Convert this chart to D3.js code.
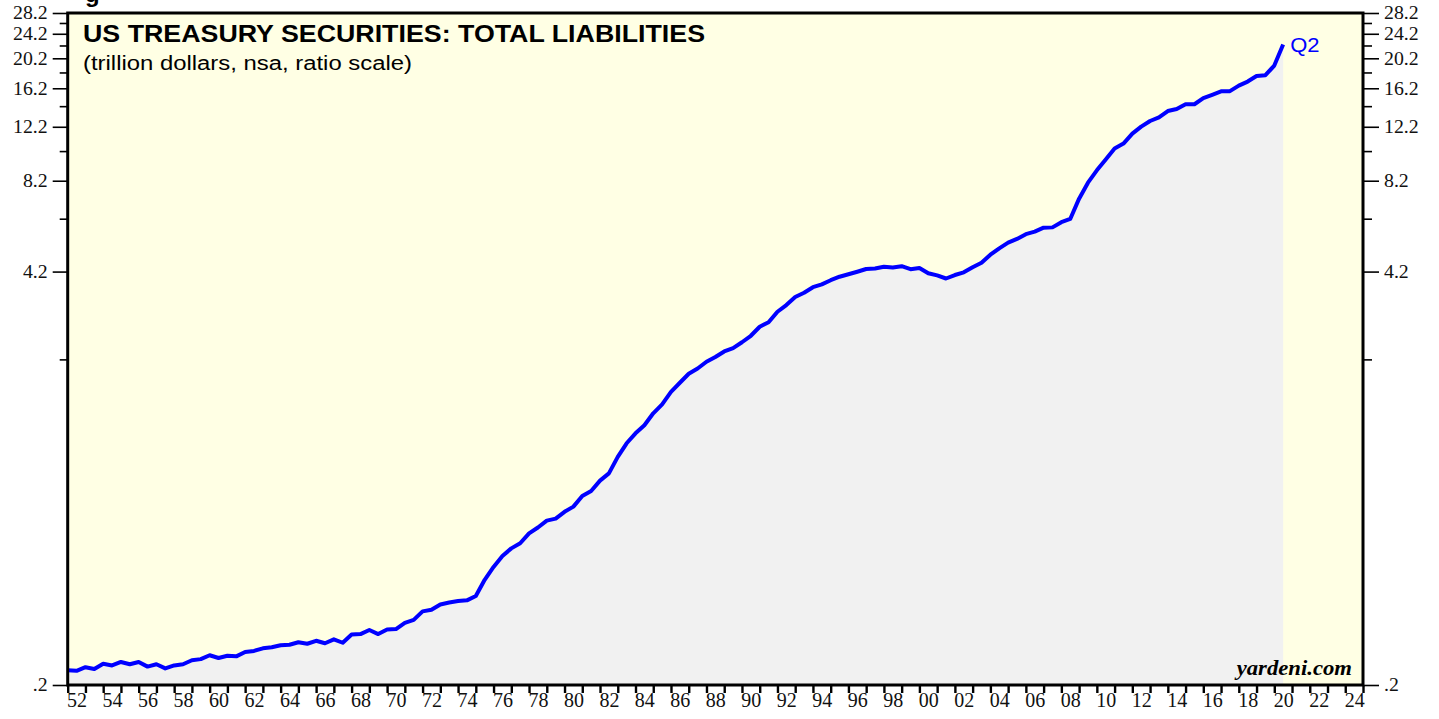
<!DOCTYPE html>
<html>
<head>
<meta charset="utf-8">
<script src="https://cdn.jsdelivr.net/npm/d3@7"></script>
<style>
  html, body { margin: 0; padding: 0; background: #fff; }
  svg { display: block; }
</style>
</head>
<body>
<svg id="chart" width="1439" height="719"></svg>
<script>
// half-year observations, 1952.0 .. 2020.5 (last point = Q2 2020)
const startYear = 1952;
const liabilities = [
  0.223, 0.222, 0.228, 0.225, 0.234, 0.231, 0.237, 0.233, 0.237, 0.229,
  0.233, 0.226, 0.231, 0.233, 0.240, 0.242, 0.249, 0.244, 0.248, 0.247,
  0.255, 0.257, 0.262, 0.264, 0.268, 0.269, 0.274, 0.271, 0.277, 0.272,
  0.280, 0.273, 0.290, 0.291, 0.300, 0.291, 0.301, 0.302, 0.316, 0.323,
  0.344, 0.348, 0.362, 0.367, 0.371, 0.373, 0.385, 0.434, 0.477, 0.517,
  0.547, 0.568, 0.611, 0.638, 0.671, 0.681, 0.716, 0.744, 0.805, 0.835,
  0.901, 0.950, 1.073, 1.186, 1.276, 1.354, 1.479, 1.580, 1.733, 1.852,
  1.979, 2.057, 2.162, 2.238, 2.332, 2.391, 2.496, 2.618, 2.798, 2.892,
  3.125, 3.283, 3.482, 3.594, 3.743, 3.824, 3.941, 4.044, 4.119, 4.196,
  4.280, 4.296, 4.353, 4.331, 4.369, 4.274, 4.315, 4.150, 4.083, 3.991,
  4.095, 4.177, 4.337, 4.484, 4.756, 4.982, 5.196, 5.343, 5.531, 5.635,
  5.803, 5.816, 6.043, 6.187, 7.185, 8.084, 8.851, 9.591, 10.40, 10.78,
  11.60, 12.21, 12.73, 13.08, 13.70, 13.91, 14.41, 14.40, 15.07, 15.44,
  15.84, 15.86, 16.52, 17.02, 17.73, 17.84, 19.15, 22.36
];
const yMajorTicks = [0.2, 4.2, 8.2, 12.2, 16.2, 20.2, 24.2, 28.2];
const yMinorTicks = [2.2, 6.2, 10.2, 14.2, 18.2, 22.2, 26.2];
const xDomain = [1952, 2025];
const lastLabel = 'Q2';

const data = liabilities.map((v, i) => ({ t: startYear + i / 2, v }));

const svg = d3.select('#chart');
const plot = { left: 67.7, right: 1363, top: 13, bottom: 685 };

const x = d3.scaleLinear().domain(xDomain).range([plot.left, plot.right]);
const y = d3.scaleLog().domain([0.2, 28.2]).range([plot.bottom, plot.top]);

// the source image is a little stretched sideways, so widen text to match
const stretch = (sel, k) => sel.each(function () {
  const w = this.getComputedTextLength();
  d3.select(this).attr('textLength', w * k).attr('lengthAdjust', 'spacingAndGlyphs');
});

// background
svg.append('rect')
  .attr('x', plot.left).attr('y', plot.top)
  .attr('width', plot.right - plot.left).attr('height', plot.bottom - plot.top)
  .attr('fill', '#ffffe4');

// grey area under the line
const area = d3.area()
  .x(d => x(d.t))
  .y0(plot.bottom)
  .y1(d => y(d.v));
svg.append('path')
  .datum(data)
  .attr('d', area)
  .attr('fill', '#f1f1f1');

const line = d3.line()
  .x(d => x(d.t))
  .y(d => y(d.v));
svg.append('path')
  .datum(data)
  .attr('d', line)
  .attr('fill', 'none')
  .attr('stroke', '#0000ff')
  .attr('stroke-width', 4)
  .attr('stroke-linejoin', 'round');

// frame
svg.append('rect')
  .attr('x', plot.left).attr('y', plot.top)
  .attr('width', plot.right - plot.left).attr('height', plot.bottom - plot.top)
  .attr('fill', 'none')
  .attr('stroke', '#000')
  .attr('stroke-width', 3);

const fmtY = d => d < 1 ? '.2' : d3.format('.1f')(d);

const styleAxis = (g, size) => {
  g.select('.domain').remove();
  g.selectAll('.tick line').attr('stroke', '#000').attr('stroke-width', 1.6);
  g.selectAll('.tick text')
    .attr('fill', '#111')
    .style('font-family', '"Liberation Serif", "Times New Roman", serif')
    .style('font-size', size + 'px');
};

// left axis
svg.append('g')
  .attr('transform', `translate(${plot.left},0)`)
  .call(d3.axisLeft(y).tickValues(yMinorTicks).tickSize(8).tickFormat(''))
  .call(g => styleAxis(g, 18));
svg.append('g')
  .attr('transform', `translate(${plot.left},0)`)
  .call(d3.axisLeft(y).tickValues(yMajorTicks).tickSize(15).tickPadding(5).tickFormat(fmtY))
  .call(g => styleAxis(g, 18))
  .call(g => stretch(g.selectAll('.tick text'), 1.1));

// right axis
svg.append('g')
  .attr('transform', `translate(${plot.right},0)`)
  .call(d3.axisRight(y).tickValues(yMinorTicks).tickSize(9).tickFormat(''))
  .call(g => styleAxis(g, 18));
svg.append('g')
  .attr('transform', `translate(${plot.right},0)`)
  .call(d3.axisRight(y).tickValues(yMajorTicks).tickSize(16).tickPadding(5).tickFormat(fmtY))
  .call(g => styleAxis(g, 18))
  .call(g => stretch(g.selectAll('.tick text'), 1.1));

// bottom axis: a tick every year, labels centred in even years
svg.append('g')
  .attr('transform', `translate(0,${plot.bottom})`)
  .call(d3.axisBottom(x).tickValues(d3.range(xDomain[0], xDomain[1] + 1)).tickSize(8).tickFormat(''))
  .call(g => styleAxis(g, 20))
  .call(g => g.selectAll('.tick line').attr('stroke-width', 2.4));
svg.append('g')
  .attr('transform', `translate(0,${plot.bottom})`)
  .call(d3.axisBottom(x)
    .tickValues(d3.range(xDomain[0], xDomain[1], 2).map(v => v + 0.5))
    .tickSize(0).tickPadding(8)
    .tickFormat(d => String(Math.floor(d) % 100).padStart(2, '0')))
  .call(g => styleAxis(g, 20));

// titles
svg.append('text')
  .attr('x', 83).attr('y', 42)
  .style('font-family', '"Liberation Sans", Arial, sans-serif')
  .style('font-weight', 'bold')
  .style('font-size', '23px')
  .attr('textLength', 622).attr('lengthAdjust', 'spacingAndGlyphs')
  .text('US TREASURY SECURITIES: TOTAL LIABILITIES');
svg.append('text')
  .attr('x', 83).attr('y', 70)
  .style('font-family', '"Liberation Sans", Arial, sans-serif')
  .style('font-size', '20px')
  .attr('textLength', 329).attr('lengthAdjust', 'spacingAndGlyphs')
  .text('(trillion dollars, nsa, ratio scale)');

// cut-off heading fragment at the very top
svg.append('text')
  .attr('x', 85).attr('y', 2)
  .style('font-family', '"Liberation Sans", Arial, sans-serif')
  .style('font-weight', 'bold')
  .style('font-size', '24px')
  .text('g');

// end label
const last = data[data.length - 1];
svg.append('text')
  .attr('x', x(last.t) + 7).attr('y', y(last.v) + 7)
  .attr('fill', '#0000ff')
  .style('font-family', '"Liberation Sans", Arial, sans-serif')
  .style('font-size', '20px')
  .text(lastLabel)
  .call(s => stretch(s, 1.1));

svg.append('text')
  .attr('x', 1352).attr('y', 675)
  .attr('text-anchor', 'end')
  .style('font-family', '"Liberation Serif", "Times New Roman", serif')
  .style('font-weight', 'bold')
  .style('font-style', 'italic')
  .style('font-size', '21px')
  .text('yardeni.com')
  .call(s => stretch(s, 1.08));
</script>
</body>
</html>
